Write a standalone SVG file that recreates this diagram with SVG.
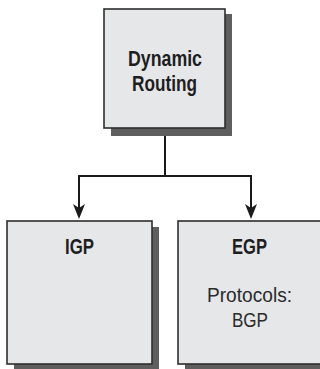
<svg xmlns="http://www.w3.org/2000/svg" width="320" height="369" viewBox="0 0 320 369">
<style>
.sh{fill:#5e5e5e}
.box{fill:#e6e7e9;stroke:#2e2e2e;stroke-width:1.6}
.b{font-family:"Liberation Sans",Arial,sans-serif;font-weight:bold;font-size:21.5px;fill:#1e1e1e;text-anchor:middle}
.r{font-family:"Liberation Sans",Arial,sans-serif;font-size:21px;fill:#2a2a2a;text-anchor:middle}
.c{fill:none;stroke:#1a1a1a;stroke-width:2}
.ah{fill:#1a1a1a}
</style>
<g id="connectors">
<path class="c" d="M165,128 V176 H79 V216"/>
<path class="c" d="M165,176 H251 V216"/>
<path class="ah" d="M73,204 L79,208 L85,204 L79,219 Z"/>
<path class="ah" d="M245,204 L251,208 L257,204 L251,219 Z"/>
</g>
<g id="dynamic-routing">
<rect class="sh" x="111" y="14" width="121" height="122"/>
<rect class="box" x="104" y="9" width="121" height="119"/>
<text class="b" x="165" y="65.5" textLength="74" lengthAdjust="spacingAndGlyphs">Dynamic</text>
<text class="b" x="164.5" y="90.5" textLength="65" lengthAdjust="spacingAndGlyphs">Routing</text>
</g>
<g id="igp">
<rect class="sh" x="14" y="227" width="145" height="145"/>
<rect class="box" x="7" y="221" width="145" height="143"/>
<text class="b" x="79.5" y="254" textLength="29" lengthAdjust="spacingAndGlyphs">IGP</text>
</g>
<g id="egp">
<rect class="sh" x="185" y="227" width="145" height="145"/>
<rect class="box" x="178" y="221" width="145" height="143"/>
<text class="b" x="249.5" y="254" textLength="35" lengthAdjust="spacingAndGlyphs">EGP</text>
<text class="r" x="249.5" y="302" textLength="85" lengthAdjust="spacingAndGlyphs">Protocols:</text>
<text class="r" x="250" y="327" textLength="36" lengthAdjust="spacingAndGlyphs">BGP</text>
</g>
</svg>
